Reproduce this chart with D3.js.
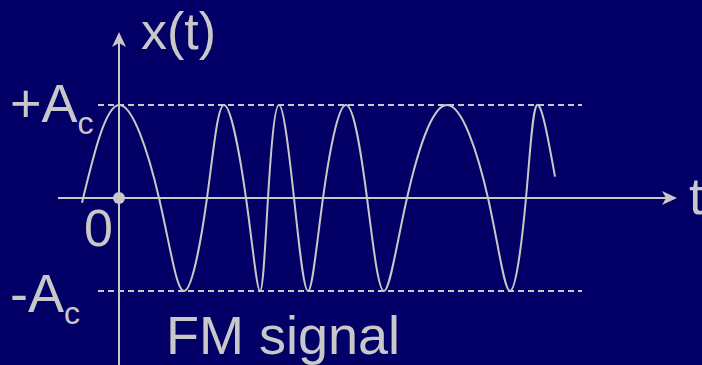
<!DOCTYPE html>
<html>
<head>
<meta charset="utf-8">
<script src="https://cdn.jsdelivr.net/npm/d3@7"></script>
<style>
  html, body { margin: 0; padding: 0; background: #020066; }
  svg { display: block; }
</style>
</head>
<body>
<div id="chart"></div>
<script>
// ---- data ----
// waveform key points: time (arbitrary units) and normalised amplitude
const waveT = [-0.37, 0.00, 0.40, 0.65, 0.88, 1.05, 1.27, 1.41, 1.49, 1.60, 1.75, 1.89, 2.04, 2.27, 2.48, 2.65, 2.88, 3.28, 3.69, 3.91, 4.07, 4.18, 4.36];
const waveX = [-0.05, 1, 0, -1, 0, 1, 0, -1, 0, 1, 0, -1, 0, 1, 0, -1, 0, 1, 0, -1, 0, 1, 0.23];
const levelValues = [1, -1];
const levelLabels = ["+A", "-A"];
const levelSubs = ["c", "c"];
const originLabel = "0";
const yAxisLabel = "x(t)";
const xAxisLabel = "t";
const caption = "FM signal";

// ---- layout ----
const W = 702, H = 365;
const fg = "#c8c8c8";
const font = "'Liberation Sans', Arial, sans-serif";

const x = d3.scaleLinear().domain([0, 1]).range([119, 219]);
const y = d3.scaleLinear().domain([-1, 1]).range([291, 105]);

const svg = d3.select("#chart").append("svg")
  .attr("width", W).attr("height", H);

svg.append("rect").attr("width", W).attr("height", H).attr("fill", "#020066");

// dashed amplitude levels
svg.selectAll("line.level").data(levelValues).join("line")
  .attr("class", "level")
  .attr("x1", x(-0.21)).attr("x2", x(4.63))
  .attr("y1", d => y(d)).attr("y2", d => y(d))
  .attr("stroke", fg).attr("stroke-width", 2)
  .attr("stroke-dasharray", "6,4");

// axes
const x0 = x(0), y0 = y(0);
svg.append("line")
  .attr("x1", x(-0.61)).attr("x2", x(5.52))
  .attr("y1", y0).attr("y2", y0)
  .attr("stroke", fg).attr("stroke-width", 2);
svg.append("line")
  .attr("x1", x0).attr("x2", x0)
  .attr("y1", H).attr("y2", 40)
  .attr("stroke", fg).attr("stroke-width", 2);

// arrow heads
const arrow = "M0,0 L-15,-7 L-11,0 L-15,7 Z";
svg.append("path").attr("d", arrow)
  .attr("transform", `translate(${x(5.58)},${y0})`)
  .attr("fill", fg);
svg.append("path").attr("d", arrow)
  .attr("transform", `translate(${x0},${32}) rotate(-90)`)
  .attr("fill", fg);

// waveform
const pts = waveT.map((t, i) => [t, waveX[i]]);
const line = d3.line()
  .x(d => x(d[0])).y(d => y(d[1]))
  .curve(d3.curveNatural);
svg.append("path").datum(pts)
  .attr("d", line)
  .attr("fill", "none")
  .attr("stroke", fg).attr("stroke-width", 2);

// origin dot
svg.append("circle").attr("cx", x0).attr("cy", y0).attr("r", 6).attr("fill", fg);

// labels
const txt = svg.append("g").attr("fill", fg).attr("font-family", font);

txt.append("text").attr("x", 141).attr("y", 49)
  .attr("font-size", 52).text(yAxisLabel);

txt.append("text").attr("x", 689).attr("y", 214)
  .attr("font-size", 52).text(xAxisLabel);

txt.append("text").attr("x", 84).attr("y", 246)
  .attr("font-size", 52).text(originLabel);

const lv = txt.selectAll("text.lvl").data(levelValues).join("text")
  .attr("class", "lvl")
  .attr("x", 10)
  .attr("y", d => y(d) + (d > 0 ? 17 : 21))
  .attr("font-size", 54);
lv.append("tspan").text((d, i) => levelLabels[i]);
lv.append("tspan").attr("font-size", 32).attr("dy", 12)
  .text((d, i) => levelSubs[i]);

txt.append("text").attr("x", 166).attr("y", 354)
  .attr("font-size", 54).text(caption);
</script>
</body>
</html>
